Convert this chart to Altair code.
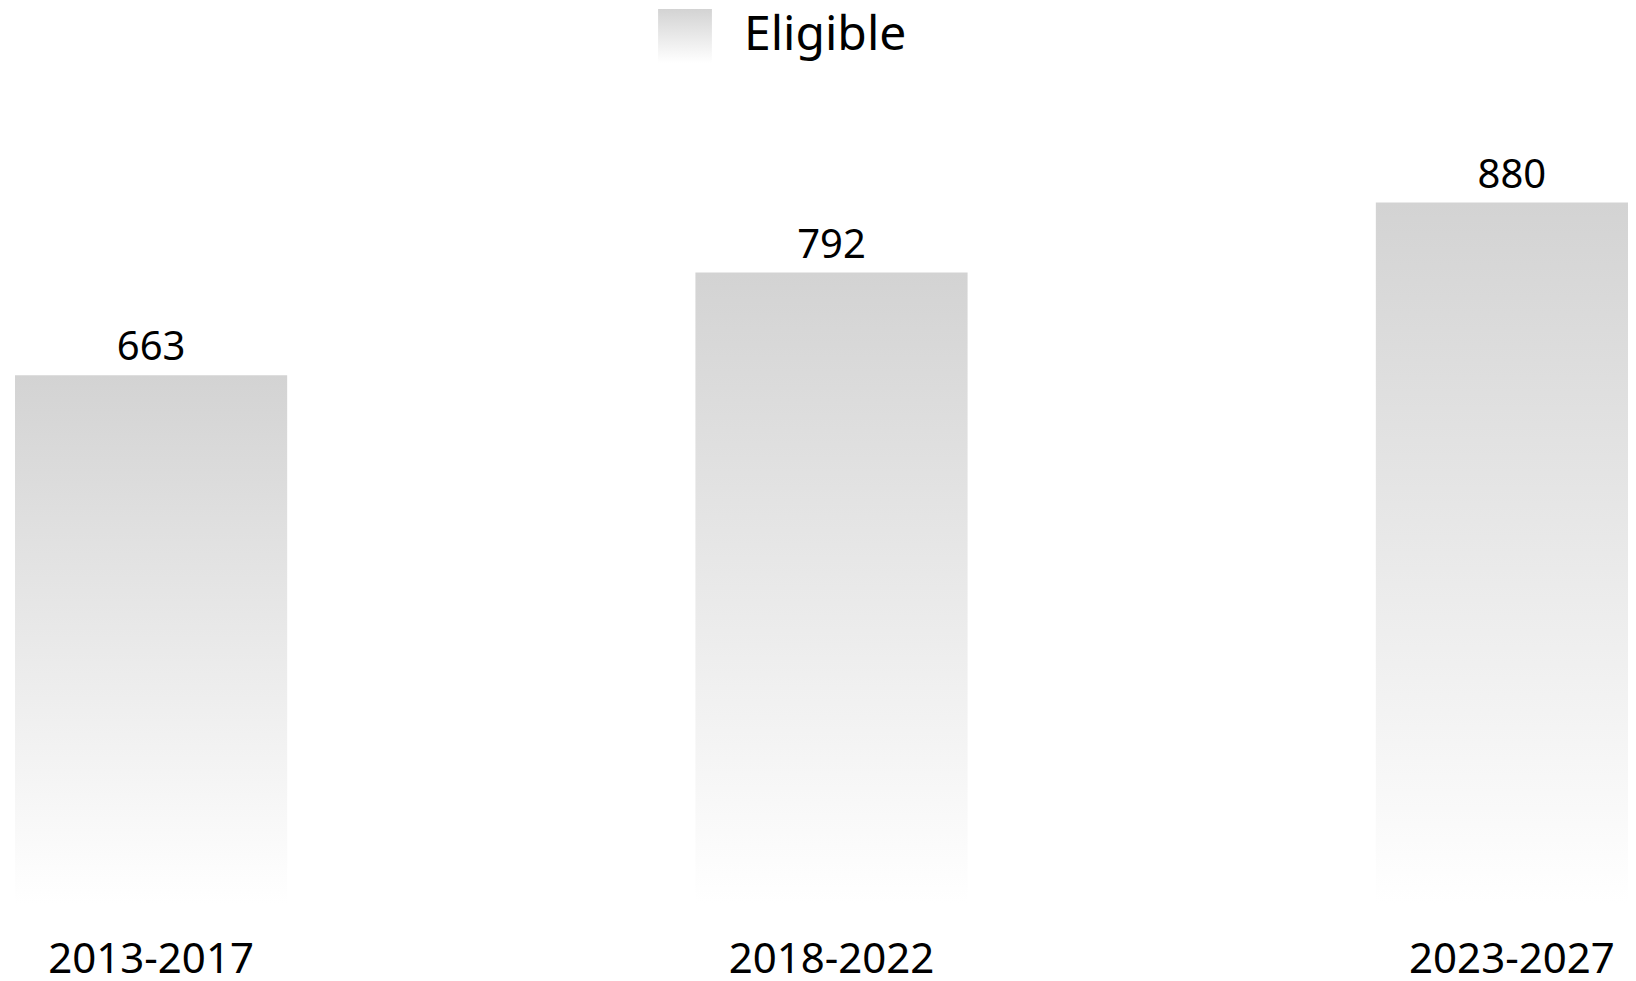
import altair as alt
import pandas as pd

periods = ["2013-2017", "2018-2022", "2023-2027"]
eligible = [663, 792, 880]
series_name = ["Eligible", "Eligible", "Eligible"]

df = pd.DataFrame({"period": periods, "value": eligible, "series": series_name})

FONT = "Noto Sans"
grad = alt.Gradient(
    gradient="linear", x1=0, y1=0, x2=0, y2=1,
    stops=[alt.GradientStop(offset=0, color="#d3d3d3"),
           alt.GradientStop(offset=1, color="#ffffff")],
)

x = alt.X(
    "period:N", sort=periods, title=None,
    scale=alt.Scale(range=[7, 1640], paddingInner=0.6, paddingOuter=0),
    axis=alt.Axis(labelAngle=0, domain=False, ticks=False, grid=False,
                  labelFont=FONT, labelFontSize=42, labelColor="#000000",
                  labelPadding=69, labelBaseline="alphabetic", labelLimit=0),
)
y = alt.Y("value:Q", scale=alt.Scale(domain=[0, 1000], nice=False), axis=None)

base = alt.Chart(df)

bars = base.mark_bar(color=grad).encode(
    x=x, y=y,
    opacity=alt.Opacity(
        "series:N", title=None,
        scale=alt.Scale(range=[1]),
        legend=alt.Legend(
            orient="none", legendX=650, legendY=-98,
            symbolType="square", symbolSize=2900,
            symbolStrokeWidth=0, labelOffset=32, labelLimit=0,
            labelFont=FONT, labelFontSize=48, labelColor="#000000",
        ),
    ),
)

labels = base.mark_text(
    baseline="alphabetic", dy=-15, font=FONT, fontSize=40, color="#000000"
).encode(x=x, y=y, text="value:Q")

chart = (
    alt.layer(bars, labels)
    .properties(
        width=1620, height=796,
        autosize=alt.AutoSizeParams(type="none"),
        padding={"left": 0, "top": 99, "right": 0, "bottom": 70},
    )
    .configure_view(stroke=None)
)

chart.save("out.html", embed_options={"renderer": "svg", "actions": False})
